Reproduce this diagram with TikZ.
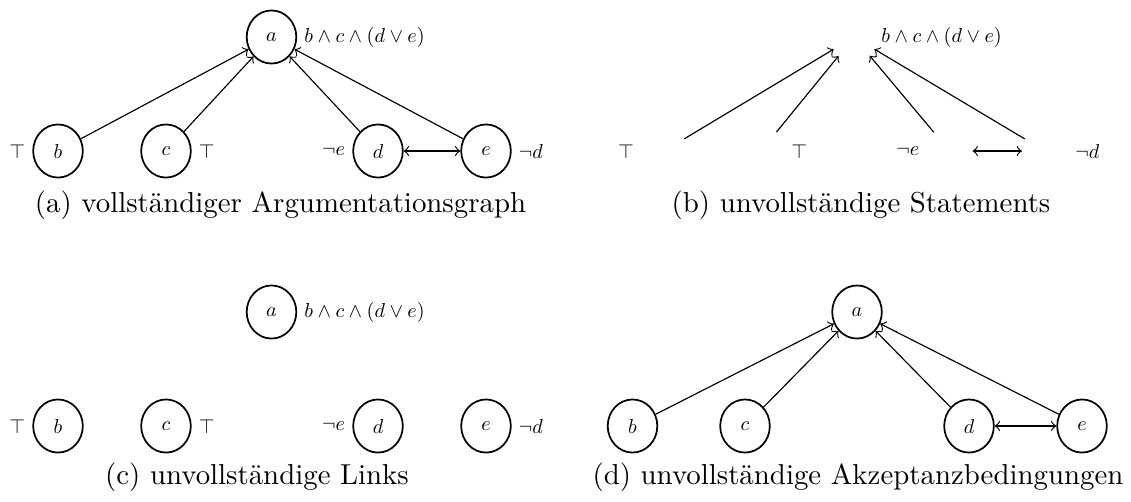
\documentclass[tikz,border=0pt]{standalone}
\usetikzlibrary{shapes.geometric}
\usepackage{amsmath}
\usepackage{graphicx}
\newcommand{\gm}[1]{\scalebox{0.7}{$#1$}}

\begin{document}
\begin{tikzpicture}[x=0.3466pt,y=-0.3466pt,
  every label/.style={inner sep=2.3pt},
  arg/.style={ellipse,draw,line width=0.6pt,inner sep=0pt,
    minimum width=17.2pt,minimum height=18.4pt},
  hid/.style={ellipse,inner sep=0pt,minimum width=15.6pt,minimum height=17.3pt},
  lnk/.style={->,line width=0.4pt},
  both/.style={<->,line width=0.4pt},
  capt/.style={inner sep=0pt}]
\useasboundingbox (0,0) rectangle (1131,501);
% ================= (a) complete graph =================
\node[arg,label=right:\gm{b\land c\land(d\lor e)}] (a1) at (271.5,37) {\gm{a}};
\node[arg,label=left:\gm{\top}]      (b1) at (58,151)  {\gm{b}};
\node[arg,label=right:\gm{\top}]     (c1) at (166,151) {\gm{c}};
\node[arg,label=left:\gm{\neg e}]    (d1) at (378,151) {\gm{d}};
\node[arg,label=right:\gm{\neg d}]   (e1) at (486,151) {\gm{e}};
\foreach \nn in {b1,c1,d1,e1}
  \draw[lnk] (\nn) -- (a1);
\draw[both] (d1) -- (e1);
\node[capt] (capa) at (280.5,205) {(a) vollständiger Argumentationsgraph};
% ================= (b) statements missing =================
\node[hid,label={[xshift=-1pt]right:\gm{b\land c\land(d\lor e)}}] (a2) at (854,37) {};
\node[hid,label=left:\gm{\top}]      (b2) at (664,151)   {};
\node[hid,label=right:\gm{\top}]     (c2) at (761,151)   {};
\node[hid,label=left:\gm{\neg e}]    (d2) at (949.5,151) {};
\node[hid,label=right:\gm{\neg d}]   (e2) at (1045,151)  {};
\foreach \nn in {b2,c2,d2,e2}
  \draw[lnk] (\nn) -- (a2);
\draw[both] (d2) -- (e2);
\node[capt] (capb) at (861,205) {(b) unvollständige Statements};
% ================= (c) links missing =================
\node[arg,label=right:\gm{b\land c\land(d\lor e)}] (a3) at (271.5,312) {\gm{a}};
\node[arg,label=left:\gm{\top}]      (b3) at (58,426)  {\gm{b}};
\node[arg,label=right:\gm{\top}]     (c3) at (166,426) {\gm{c}};
\node[arg,label=left:\gm{\neg e}]    (d3) at (378,426) {\gm{d}};
\node[arg,label=right:\gm{\neg d}]   (e3) at (486,426) {\gm{e}};
\node[capt] (capc) at (257,477) {(c) unvollständige Links};
% ================= (d) acceptance conditions missing =================
\node[arg] (a4) at (857,312)   {\gm{a}};
\node[arg] (b4) at (632.5,426) {\gm{b}};
\node[arg] (c4) at (745,426)   {\gm{c}};
\node[arg] (d4) at (969,426)   {\gm{d}};
\node[arg] (e4) at (1082,426)  {\gm{e}};
\foreach \nn in {b4,c4,d4,e4}
  \draw[lnk] (\nn) -- (a4);
\draw[both] (d4) -- (e4);
\node[capt] (capd) at (858,477) {(d) unvollständige Akzeptanzbedingungen};
\end{tikzpicture}
\end{document}
